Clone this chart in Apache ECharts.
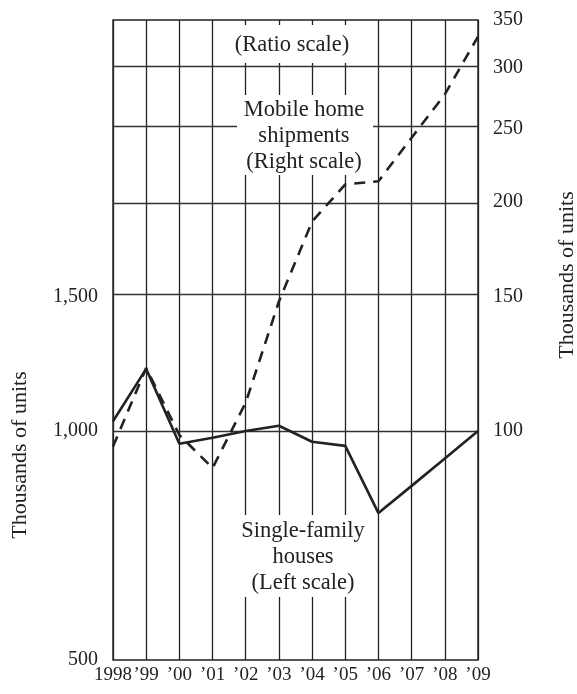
<!DOCTYPE html>
<html>
<head>
<meta charset="utf-8">
<script src="https://cdn.jsdelivr.net/npm/echarts@6/dist/echarts.min.js"></script>
<style>
  html, body { margin: 0; padding: 0; background: #fff; }
  #chart { width: 577px; height: 694px; }
</style>
</head>
<body>
<div id="chart"></div>
<script>
// ---- data ----
const years = ['1998', '\u201999', '\u201900', '\u201901', '\u201902', '\u201903', '\u201904', '\u201905', '\u201906', '\u201907', '\u201908', '\u201909'];
const singleFamily = [1030, 1207, 962, 980, 1000, 1016, 968, 956, 780, 847, 920, 1000];   // thousands, left scale
const mobileHomes = [95.4, 121, 98.8, 89.4, 109, 148, 188.5, 211, 213, 243, 277, 330];    // thousands, right scale
const leftTicks = [500, 1000, 1500];
const rightTicks = [100, 150, 200, 250, 300, 350];
const leftRange = [500, 3470];
const rightRange = [50, 347];

// ---- build ----
const lg = Math.log10;
const leftMin = lg(leftRange[0]), leftMax = lg(leftRange[1]);
const rightMin = lg(rightRange[0]), rightMax = lg(rightRange[1]);
const FONT = '"Liberation Serif", "DejaVu Serif", serif';
const INK = '#222';

function nearestTick(ticks, v) {
  let best = ticks[0];
  ticks.forEach(t => { if (Math.abs(lg(t) - v) < Math.abs(lg(best) - v)) best = t; });
  return best;
}

const chart = echarts.init(document.getElementById('chart'), null, { renderer: 'canvas' });

const option = {
  animation: false,
  backgroundColor: '#fff',
  grid: {
    left: 113, right: 99, top: 20, bottom: 34,
    show: true, borderColor: INK, borderWidth: 1.4, backgroundColor: 'transparent'
  },
  xAxis: {
    type: 'category',
    data: years,
    boundaryGap: false,
    axisLine: { show: false },
    axisTick: { show: false },
    axisLabel: { color: INK, fontFamily: FONT, fontSize: 19, margin: 6, interval: 0 },
    splitLine: { show: true, lineStyle: { color: INK, width: 1.3 } }
  },
  yAxis: [
    {
      type: 'value', min: leftMin, max: leftMax,
      axisLine: { show: false }, axisTick: { show: false }, splitLine: { show: false },
      axisLabel: {
        customValues: leftTicks.map(v => Math.min(lg(v), leftMax)),
        color: INK, fontFamily: FONT, fontSize: 20, margin: 15,
        formatter: v => nearestTick(leftTicks, v).toLocaleString('en-US')
      }
    },
    {
      type: 'value', min: rightMin, max: rightMax, position: 'right',
      axisLine: { show: false }, axisTick: { show: false }, splitLine: { show: false },
      axisLabel: {
        customValues: rightTicks.map(v => Math.min(lg(v), rightMax)),
        color: INK, fontFamily: FONT, fontSize: 20, margin: 15,
        formatter: v => String(nearestTick(rightTicks, v))
      }
    }
  ],
  series: [
    {
      name: 'Single-family houses',
      type: 'line',
      yAxisIndex: 0,
      data: singleFamily.map(lg),
      symbol: 'none',
      lineStyle: { color: INK, width: 2.6 },
      z: 3
    },
    {
      name: 'Mobile home shipments',
      type: 'line',
      yAxisIndex: 1,
      data: mobileHomes.map(lg),
      symbol: 'none',
      lineStyle: { color: INK, width: 2.6, type: [11, 8] },
      z: 3,
      markLine: {
        silent: true,
        symbol: 'none',
        label: { show: false },
        lineStyle: { color: '#333', width: 1.3, type: 'solid' },
        data: rightTicks.filter(v => lg(v) < rightMax - 1e-6).map(v => ({ yAxis: lg(v) })),
        z: 1
      }
    }
  ],
  graphic: [
    { type: 'rect', z: 100, shape: { x: 236, y: 25, width: 114, height: 38 }, style: { fill: '#fff' } },
    { type: 'text', z: 101, x: 292, y: 45, style: { text: '(Ratio scale)', align: 'center', verticalAlign: 'middle', fontFamily: FONT, fontSize: 22.5, fill: INK } },

    { type: 'rect', z: 100, shape: { x: 237, y: 95, width: 136, height: 80 }, style: { fill: '#fff' } },
    { type: 'text', z: 101, x: 304, y: 136, style: { text: 'Mobile home\nshipments\n(Right scale)', align: 'center', verticalAlign: 'middle', fontFamily: FONT, fontSize: 22.5, lineHeight: 26, fill: INK } },

    { type: 'rect', z: 100, shape: { x: 240, y: 515, width: 126, height: 82 }, style: { fill: '#fff' } },
    { type: 'text', z: 101, x: 303, y: 557, style: { text: 'Single-family\nhouses\n(Left scale)', align: 'center', verticalAlign: 'middle', fontFamily: FONT, fontSize: 22.5, lineHeight: 26, fill: INK } },

    { type: 'text', z: 101, x: 20, y: 455, rotation: Math.PI / 2, style: { text: 'Thousands of units', align: 'center', verticalAlign: 'middle', fontFamily: FONT, fontSize: 22, fill: INK } },
    { type: 'text', z: 101, x: 567, y: 275, rotation: Math.PI / 2, style: { text: 'Thousands of units', align: 'center', verticalAlign: 'middle', fontFamily: FONT, fontSize: 22, fill: INK } }
  ]
};

chart.setOption(option);
</script>
</body>
</html>
